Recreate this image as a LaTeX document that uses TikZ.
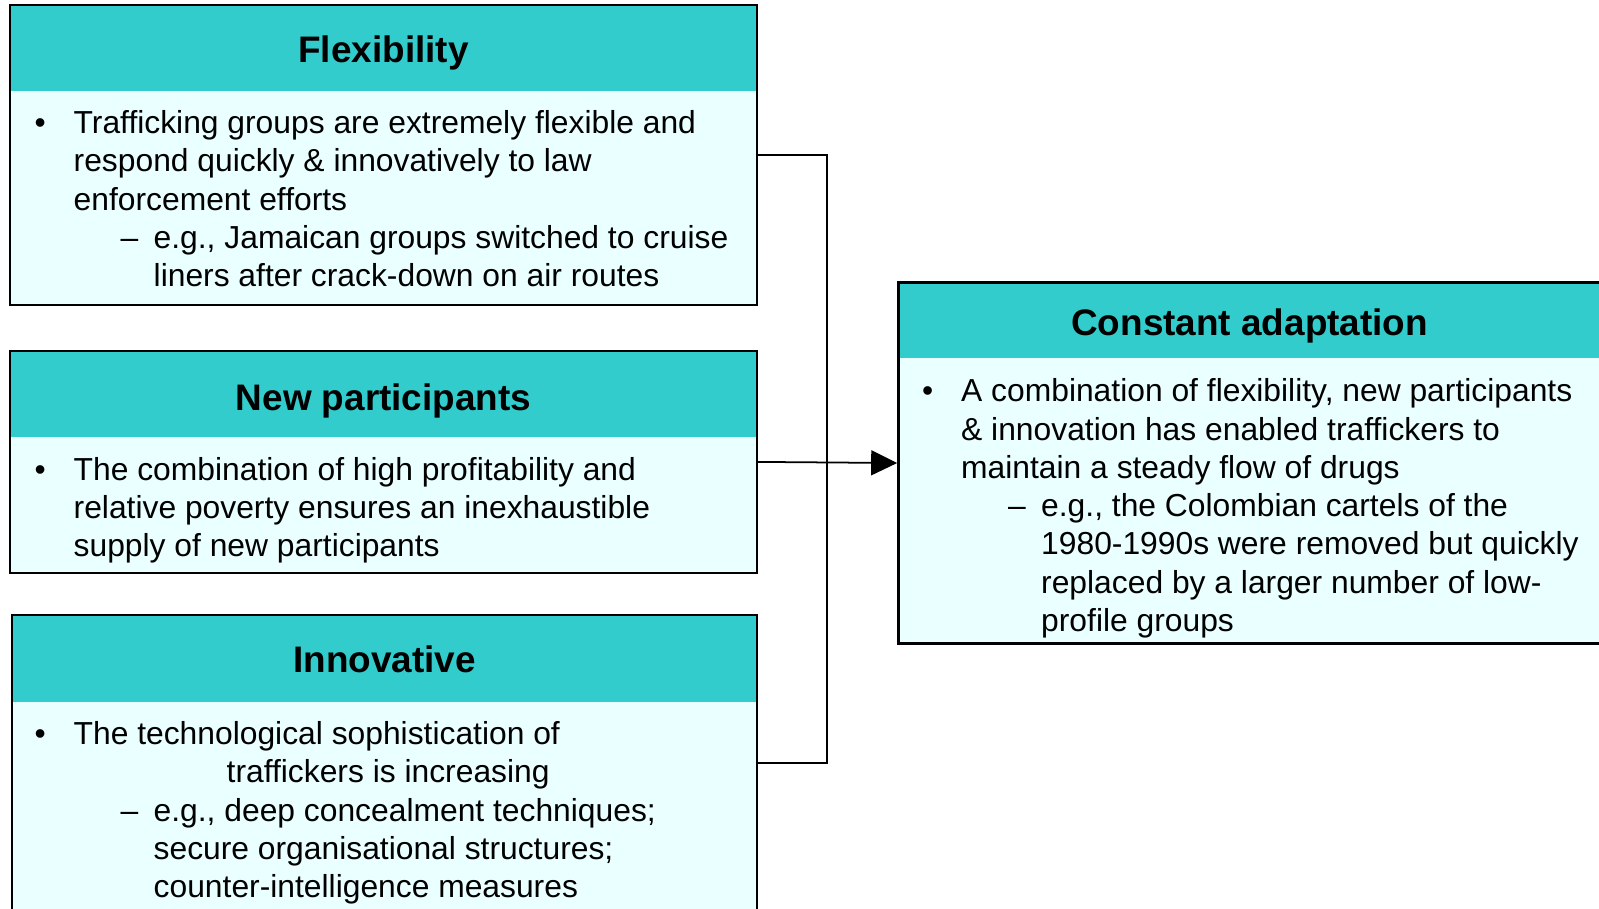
\documentclass[tikz,border=0pt]{standalone}
\usepackage{fontspec}
\setmainfont{Liberation Sans}
\usetikzlibrary{arrows.meta}
\definecolor{cardteal}{HTML}{33CCCC}
\definecolor{cardcyan}{HTML}{EAFFFF}
\newcommand{\bodyfont}{\fontsize{9.05}{10.88}\selectfont}
\newcommand{\headfont}{\fontsize{10.5}{12.6}\selectfont\bfseries}
\newcommand{\cardbullet}{\makebox[0.36cm][l]{\hspace*{-0.03cm}•}}
\newcommand{\cardindent}{\hspace*{0.36cm}}
\newcommand{\carddash}{\hspace*{0.83cm}\makebox[0.33cm][l]{–}}
\newcommand{\cardsubindent}{\hspace*{1.16cm}}

\begin{document}
\begin{tikzpicture}[
    card/.style={draw=black, line width=0.7pt, fill=cardcyan, inner sep=0pt,
                 path picture={\fill[cardteal] (path picture bounding box.north west)
                   rectangle ([yshift=-#1]path picture bounding box.north east);}},
    cardtitle/.style={font=\headfont, inner sep=0pt, anchor=base},
    cardtext/.style={font=\bodyfont, align=left, inner sep=0pt, anchor=base west},
    link/.style={draw=black, line width=0.5pt},
    arrow/.style={link, -{Triangle[length=2.6mm, width=2.5mm]}}
  ]
    \clip (0,0) rectangle (15.99,9.08);

    % the four cards (header band height as argument)
    \node[card=0.857cm, minimum width=7.465cm, minimum height=2.998cm] (flex)  at (3.835,7.530)  {};
    \node[card=0.867cm, minimum width=7.465cm, minimum height=2.223cm] (part)  at (3.835,4.461)  {};
    \node[card=0.867cm, minimum width=7.445cm, minimum height=2.958cm] (innov) at (3.845,1.452)  {};
    \node[card=0.755cm, minimum width=7.026cm, minimum height=3.610cm] (adapt) at (12.497,4.450) {};

    \node[cardtitle] (flexhead)  at (3.835,8.460)  {Flexibility};
    \node[cardtitle] (parthead)  at (3.835,4.980)  {New participants};
    \node[cardtitle] (innovhead) at (3.845,2.355)  {Innovative};
    \node[cardtitle] (adapthead) at (12.497,5.725) {Constant adaptation};

    % text nodes sit on the baseline of their last line
    \node[cardtext] (flextext) at (0.37,6.214) {\cardbullet Trafficking groups are extremely flexible and\\
      \cardindent respond quickly \& innovatively to law\\
      \cardindent enforcement efforts\\
      \carddash e.g., Jamaican groups switched to cruise\\
      \cardsubindent liners after crack-down on air routes};
    \node[cardtext] (parttext) at (0.37,3.511) {\cardbullet The combination of high profitability and\\
      \cardindent relative poverty ensures an inexhaustible\\
      \cardindent supply of new participants};
    \node[cardtext] (innovtext) at (0.37,0.105) {\cardbullet The technological sophistication of\\
      \hspace*{1.89cm}traffickers is increasing\\
      \carddash e.g., deep concealment techniques;\\
      \cardsubindent secure organisational structures;\\
      \cardsubindent counter-intelligence measures};
    \node[cardtext] (adapttext) at (9.245,2.767) {\cardbullet A combination of flexibility, new participants\\
      \cardindent \& innovation has enabled traffickers to\\
      \cardindent maintain a steady flow of drugs\\
      \carddash e.g., the Colombian cartels of the\\
      \cardsubindent 1980-1990s were removed but quickly\\
      \cardsubindent replaced by a larger number of low-\\
      \cardsubindent profile groups};

    % connectors
    \coordinate (bus) at (8.27,0);
    \draw[link] (flex.east) -- (flex.east -| bus) -- (innov.east -| bus) -- (innov.east);
    \draw[arrow] (part.east) -- (adapt.west);
\end{tikzpicture}
\end{document}
